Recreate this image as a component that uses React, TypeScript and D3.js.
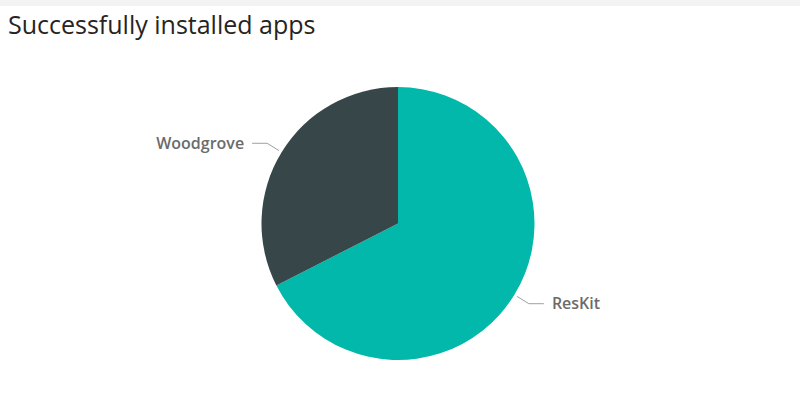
import React from "react";
import { pie, arc, PieArcDatum } from "d3";

const categories = ["ResKit", "Woodgrove"];
const values = [27, 13];
const colors = ["#01B8AA", "#374649"];

const width = 800;
const height = 405;
const cx = 398;
const cy = 223.5;
const radius = 136.5;

type Slice = { name: string; value: number; color: string };

export default function App() {
    const data: Slice[] = categories.map((name, i) => ({ name, value: values[i], color: colors[i] }));

    const layout = pie<Slice>()
        .value((d) => d.value)
        .sort(null);
    const arcs = layout(data);

    const sliceArc = arc<PieArcDatum<Slice>>().innerRadius(0).outerRadius(radius);
    // leader line: start just outside the edge, bend a bit further out
    const startArc = arc<PieArcDatum<Slice>>().innerRadius(radius + 3).outerRadius(radius + 3);
    const elbowArc = arc<PieArcDatum<Slice>>().innerRadius(radius + 17).outerRadius(radius + 17);

    return (
        <svg width={width} height={height} style={{ position: "absolute", left: 0, top: 0, background: "#fff" }}>
            <rect x={0} y={0} width={width} height={6} fill="#f3f3f3" />
            <text x={8} y={34} fontFamily="'Open Sans', sans-serif" fontSize={25} fill="#252423">
                Successfully installed apps
            </text>
            <g transform={`translate(${cx},${cy})`}>
                {arcs.map((a) => (
                    <path key={a.data.name} d={sliceArc(a) ?? ""} fill={a.data.color} />
                ))}
                {arcs.map((a) => {
                    const [sx, sy] = startArc.centroid(a);
                    const [ex, ey] = elbowArc.centroid(a);
                    const right = ex > 0;
                    const hx = ex + (right ? 15 : -15);
                    return (
                        <g key={"l" + a.data.name}>
                            <polyline
                                points={`${sx},${sy} ${ex},${ey} ${hx},${ey}`}
                                fill="none"
                                stroke="#a0a0a0"
                                strokeWidth={1}
                            />
                            <text
                                x={hx + (right ? 8 : -8)}
                                y={ey}
                                dy="0.35em"
                                textAnchor={right ? "start" : "end"}
                                fontFamily="'Open Sans', sans-serif"
                                fontWeight={600}
                                fontSize={16}
                                fill="#6b6b6b"
                            >
                                {a.data.name}
                            </text>
                        </g>
                    );
                })}
            </g>
        </svg>
    );
}
